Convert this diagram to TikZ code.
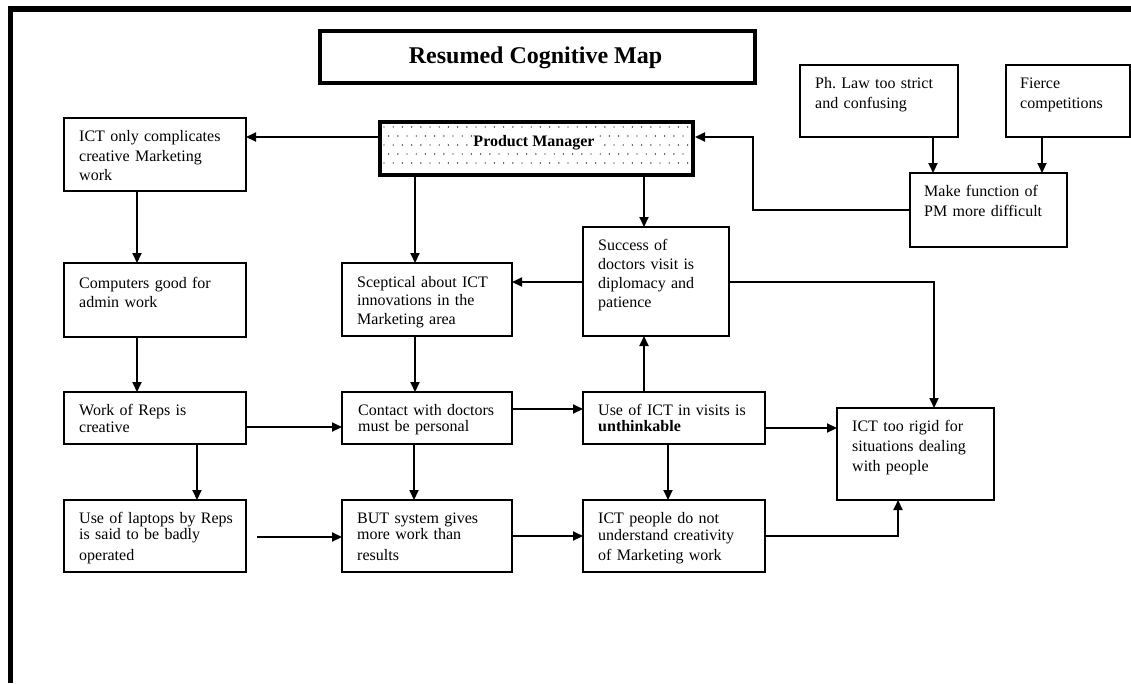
\documentclass[tikz,border=0pt]{standalone}
\usepackage{fontspec}
\setmainfont{Liberation Serif}
\usetikzlibrary{arrows.meta}

% box: name, left, top, width, height; text: x, first baseline, line skip, lines
\newcommand{\cmbox}[9]{%
  \node[box, minimum width=#4pt, minimum height=#5pt] (#1) at (#2,#3) {};
  \node[boxtext, font={\fontsize{16}{#8}\selectfont}] (#1-t) at (#6,#7) {#9};
}

\begin{document}
\begin{tikzpicture}[x=1pt, y=-1pt,
  box/.style={draw, line width=2pt, anchor=north west, inner sep=0pt, outer sep=0pt},
  boxtext/.style={anchor=base west, inner sep=0pt, text width=220pt, align=left},
  heavybox/.style={draw, line width=4pt, anchor=north west, inner sep=0pt, outer sep=2pt},
  arr/.style={line width=2pt, -{Triangle[length=10pt, width=9pt]}}
]
\useasboundingbox (0,0) rectangle (1131,683);
\fill[white] (0,0) rectangle (1131,683);

% page frame (top and left rules)
\draw[line width=6pt] (8,9) -- (1131,9);
\draw[line width=5pt] (10.5,6) -- (10.5,683);

% title
\node[heavybox, minimum width=435pt, minimum height=52pt] (title) at (318,29) {};
\node[anchor=base, inner sep=0pt, font={\fontsize{24}{28}\selectfont\bfseries}] (title-t) at (535.5,63) {Resumed Cognitive Map};

% central actor with dotted fill
\node[heavybox, minimum width=313pt, minimum height=53pt] (pm) at (378,120) {};
\begin{scope}
  \clip (380,122) rectangle (689,171);
  \foreach \r in {0,...,4} {
    \foreach \c in {0,...,34} {
      \fill ({384+9.2*\c+mod(\r,2)*4.6},{127+9*\r}) circle[radius=0.7pt];
    }
  }
\end{scope}
\node[anchor=base, fill=white, inner xsep=2pt, inner ysep=0pt, text depth=0pt,
      font={\fontsize{16}{19}\selectfont\bfseries}] (pm-t) at (534,146) {Product Manager};

% concept boxes
\cmbox{ictonly}{64}{118}{182}{73}{79}{141.7}{19.3}{ICT only complicates\\creative Marketing\\work}
\cmbox{computers}{64}{263}{182}{74}{79}{288}{19}{Computers good for\\admin work}
\cmbox{workreps}{64}{392}{182}{52}{79}{415.5}{16.5}{Work of Reps is\\creative}
\cmbox{laptops}{64}{500}{182}{72}{79}{523}{16}{Use of laptops by Reps\\is said to be badly\\[5pt]operated}
\cmbox{sceptical}{342}{263}{170}{73}{357}{287}{18.5}{Sceptical about ICT\\innovations in the\\Marketing area}
\cmbox{contact}{342}{392}{170}{52}{358}{415}{16.7}{Contact with doctors\\must be personal}
\cmbox{but}{342}{500}{170}{72}{357}{523}{16}{BUT system gives\\more work than\\[5pt]results}
\cmbox{success}{583}{227}{146}{109}{598}{250}{19.3}{Success of\\doctors visit is\\diplomacy and\\patience}
\cmbox{usevisits}{583}{392}{182}{52}{598}{415}{16.7}{Use of ICT in visits is\\\textbf{unthinkable}}
\cmbox{ictpeople}{583}{500}{182}{72}{598}{523}{17}{ICT people do not\\understand creativity\\[3.7pt]of Marketing work}
\cmbox{ictrigid}{837}{408}{157}{92}{852}{431.7}{20}{ICT too rigid for\\situations dealing\\with people}
\cmbox{phlaw}{800}{65}{158}{72}{815}{88.3}{20}{Ph.\ Law too strict\\and confusing}
\cmbox{fierce}{1006}{65}{124}{72}{1020}{88.3}{20}{Fierce\\competitions}
\cmbox{makefn}{910}{173}{157}{74}{924}{196.7}{20}{Make function of\\PM more difficult}

% connectors
\draw[arr] (pm.west |- 0,137) -- (ictonly.east |- 0,137);
\draw[arr] (pm.south -| 415,0) -- (sceptical.north -| 415,0);
\draw[arr] (pm.south -| 644,0) -- (success.north -| 644,0);
\draw[arr] (phlaw.south -| 933,0) -- (makefn.north -| 933,0);
\draw[arr] (fierce.south -| 1042,0) -- (makefn.north -| 1042,0);
\draw[arr] (makefn.west |- 0,210) -- (753,210) |- (pm.east |- 0,137);
\draw[arr] (success.west |- 0,282) -- (sceptical.east |- 0,282);
\draw[arr] (success.east |- 0,282) -| (ictrigid.north -| 934,0);
\draw[arr] (ictonly.south -| 137,0) -- (computers.north -| 137,0);
\draw[arr] (computers.south -| 137,0) -- (workreps.north -| 137,0);
\draw[arr] (workreps.east |- 0,427) -- (contact.west |- 0,427);
\draw[arr] (workreps.south -| 197,0) -- (laptops.north -| 197,0);
\draw[arr] (sceptical.south -| 415,0) -- (contact.north -| 415,0);
\draw[arr] (contact.east |- 0,409) -- (usevisits.west |- 0,409);
\draw[arr] (usevisits.north -| 644,0) -- (success.south -| 644,0);
\draw[arr] (usevisits.east |- 0,428) -- (ictrigid.west |- 0,428);
\draw[arr] (usevisits.south -| 668,0) -- (ictpeople.north -| 668,0);
\draw[arr] (contact.south -| 414,0) -- (but.north -| 414,0);
\coordinate (lapgap) at (257,537);
\draw[arr] (lapgap) -- (but.west |- lapgap);
\draw[arr] (but.east |- 0,536) -- (ictpeople.west |- 0,536);
\draw[arr] (ictpeople.east |- 0,536) -| (ictrigid.south -| 898,0);
\end{tikzpicture}
\end{document}
